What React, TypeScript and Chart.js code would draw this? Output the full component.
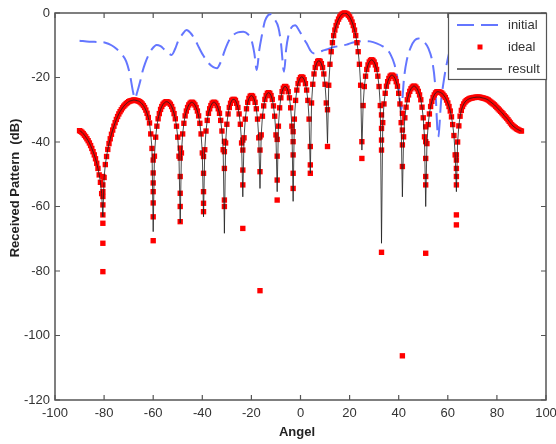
import React, { useEffect, useRef } from "react";
import { Chart, registerables } from "chart.js";

Chart.register(...registerables);

// ---------- data ----------
const X_TICKS = [-100, -80, -60, -40, -20, 0, 20, 40, 60, 80, 100];
const Y_TICKS = [0, -20, -40, -60, -80, -100, -120];

// "result" pattern sampled every 0.5 deg from -90 to 90 (dB)
const RESULT_DB = [
  -36.5, -36.7, -37.0, -37.4, -37.9, -38.4, -39.0, -39.6, -40.3, -41.1, -42.0, -43.0, -44.0, -45.2, -46.6, -48.2, -50.2, -52.5, -56.0, -63.2,
  -51.0, -47.0, -44.5, -42.3, -40.5, -39.0, -37.6, -36.3, -35.1, -34.0, -33.0, -32.1, -31.3, -30.6, -30.0, -29.4, -28.9, -28.5, -28.1, -27.8,
  -27.5, -27.3, -27.2, -27.1, -27.0, -27.0, -27.1, -27.2, -27.3, -27.5, -27.8, -28.2, -28.7, -29.3, -30.1, -31.1, -32.4, -34.1, -37.5, -42.0,
  -67.8, -44.4, -38.5, -35.1, -32.8, -31.2, -29.9, -29.0, -28.3, -27.9, -27.6, -27.5, -27.6, -27.9, -28.3, -29.0, -29.9, -31.2, -32.8, -35.1,
  -38.5, -44.4, -65.1, -43.4, -37.5, -34.2, -31.9, -30.4, -29.3, -28.5, -28.0, -27.7, -27.7, -28.0, -28.5, -29.3, -30.4, -31.9, -34.2, -37.5,
  -43.4, -63.2, -42.4, -36.6, -33.3, -31.1, -29.7, -28.7, -28.0, -27.7, -27.7, -28.0, -28.7, -29.7, -31.1, -33.3, -36.6, -42.4, -68.3, -40.3,
  -34.5, -31.3, -29.3, -28.0, -27.1, -26.8, -26.8, -27.1, -28.0, -29.3, -31.3, -34.5, -40.3, -57.0, -38.7, -32.9, -29.7, -27.7, -26.5, -25.8,
  -25.6, -25.8, -26.5, -27.7, -29.7, -32.9, -38.7, -54.4, -37.8, -32.0, -28.8, -26.8, -25.6, -24.9, -24.7, -24.9, -25.6, -26.8, -28.8, -32.0,
  -37.8, -55.4, -35.1, -29.4, -26.3, -24.4, -23.3, -22.8, -22.8, -23.3, -24.4, -26.3, -29.4, -35.1, -58.4, -32.9, -27.1, -23.9, -21.9, -20.7,
  -20.0, -19.8, -20.0, -20.7, -21.9, -23.9, -27.1, -32.9, -49.7, -27.9, -22.1, -18.9, -16.9, -15.7, -15.0, -14.8, -15.0, -15.7, -16.9, -18.9,
  -22.1, -27.9, -40.4, -22.4, -15.9, -12.0, -9.2, -7.0, -5.3, -3.9, -2.8, -1.9, -1.2, -0.7, -0.3, -0.1, 0.0, -0.1, -0.3, -0.7,
  -1.2, -1.9, -2.8, -3.9, -5.3, -7.0, -9.2, -12.0, -15.9, -22.4, -42.5, -28.7, -22.8, -19.6, -17.5, -16.1, -15.2, -14.7, -14.5, -14.7,
  -15.2, -16.1, -17.5, -19.6, -22.8, -28.7, -71.4, -34.0, -28.2, -24.9, -22.7, -21.3, -20.3, -19.6, -19.3, -19.3, -19.6, -20.3, -21.3, -22.7,
  -24.9, -28.2, -34.0, -57.0, -38.4, -32.5, -29.2, -26.9, -25.4, -24.3, -23.5, -23.0, -22.7, -22.7, -23.0, -23.5, -24.3, -25.4, -26.9, -29.2,
  -32.5, -38.4, -60.0, -40.5, -34.6, -31.3, -29.0, -27.4, -26.2, -25.4, -24.8, -24.5, -24.4, -24.5, -24.6, -24.8, -25.2, -25.7, -26.2, -27.0,
  -27.9, -29.0, -30.4, -32.2, -34.6, -38.0, -44.0, -55.4, -40.0, -35.0, -32.0, -30.2, -29.0, -28.2, -27.6, -27.2, -26.9, -26.7, -26.5, -26.4,
  -26.3, -26.2, -26.2, -26.1, -26.1, -26.1, -26.1, -26.2, -26.3, -26.4, -26.5, -26.6, -26.8, -27.0, -27.3, -27.6, -27.9, -28.2, -28.5, -28.9,
  -29.3, -29.7, -30.1, -30.5, -30.9, -31.3, -31.8, -32.2, -32.6, -33.1, -33.6, -34.1, -34.6, -35.0, -35.3, -35.6, -35.9, -36.1, -36.3, -36.5, -36.6,
];
const ANGLE_START = -90;
const ANGLE_STEP = 0.5;
const ANGLES = RESULT_DB.map((_, i) => ANGLE_START + i * ANGLE_STEP);

// null directions and the "ideal" samples read around each null
const NULL_ANGLES = [-80.5, -60, -49, -39.5, -31, -23.5, -16.5, -9.5, -3, 4, 11, 25, 33, 41.5, 51, 63.5];
const IDEAL_NULL_DB = [
  [-50.7, -53.3, -55.4, -56.9, -59.5, -62.6, -65.2, -71.4, -80.2],
  [-45.6, -49.6, -52.7, -55.4, -58.9, -63.2, -70.6],
  [-41.9, -45.0, -50.7, -55.9, -60.0, -64.7],
  [-44.5, -49.7, -55.4, -59.0, -61.6],
  [-39.8, -43.0, -48.2, -58.0, -60.0],
  [-39.4, -42.5, -48.7, -53.3, -66.8],
  [-38.4, -42.5, -49.2, -86.1],
  [-39.2, -44.4, -51.8, -58.0],
  [-36.8, -39.9, -44.0, -49.7, -54.4],
  [-41.4, -47.1, -49.7],
  [-30.0, -41.4],
  [-39.9, -45.1],
  [-31.6, -35.8, -39.4, -42.5, -74.2],
  [-31.1, -36.3, -40.9, -47.6, -106.3],
  [-35.3, -39.9, -45.1, -50.7, -53.3, -74.5],
  [-44.0, -45.6, -48.2, -50.7, -53.3, -62.6, -65.7],
];

// "initial" pattern (blue dashed)
const INITIAL_ANGLES = [
  -90, -86, -82, -79.5, -77, -75, -73, -71, -69.5, -68.2, -67.5, -66.5, -65.4, -64.3, -63.3, -62, -60.6, -58.6,
  -57, -55.5, -53.8, -52.5, -51, -49.8, -48, -46.4, -44.8, -43, -41.3, -39.6, -37.5, -35.5, -34, -32.5, -30.8,
  -29.3, -28, -25.5, -23.3, -21.5, -19.9, -18.8, -17.8, -16.8, -15.8, -14.5, -13.2, -12.1, -10.5, -9, -8, -6.7,
  -5.8, -5, -3.7, -2.2, -0.5, 1.5, 2.5, 4, 5.2, 7, 9, 10.7, 13, 16, 18.8, 21, 22.9, 26, 28.3, 31, 33.7, 35.5,
  36.5, 38.3, 39.8, 41, 42.2, 43.3, 45, 46.5, 48, 50, 52.1, 53.8, 54.8, 56.1, 57.3, 58.2, 59.5, 60.9, 62.5, 64,
];
const INITIAL_DB = [
  -8.6, -8.9, -9.0, -9.2, -10.0, -11.1, -12.6, -15.0, -19.0, -24.5, -26.5, -24.5, -21.5, -18.0, -15.6, -13.2, -11.3, -9.9,
  -10.3, -11.3, -12.5, -13.0, -11.0, -8.6, -6.5, -5.3, -6.2, -8.2, -10.8, -13.2, -15.5, -16.8, -17.1, -15.2, -11.5,
  -8.8, -7.3, -6.0, -5.8, -6.5, -8.6, -12.5, -17.7, -11.5, -7.2, -2.5, -0.7, -0.4, -2.0, -4.5, -9.0, -18.2,
  -11.0, -7.3, -4.5, -3.8, -5.5, -8.2, -9.4, -11.6, -12.5, -12.2, -11.7, -11.3, -10.7, -10.2, -9.8, -9.2, -8.9, -8.7, -8.8, -9.4, -10.4, -11.5,
  -12.6, -16.0, -21.8, -30.0, -20.0, -14.6, -10.5, -8.5, -7.9, -8.7, -11.0, -15.5, -21.8, -38.4, -27.0, -21.8, -16.0, -11.5, -9.5, -8.5,
];

const LEGEND_LABELS = ["initial", "ideal", "result"];
const X_TITLE = "Angel";
const Y_TITLE = "Received Pattern  (dB)";

// ---------- styles ----------
const FONT = "'Liberation Sans', Arial, sans-serif";
const BLUE = "rgb(100,118,255)";
const RED = "rgb(255,0,0)";
const BLACK = "rgba(30,30,30,0.8)";
const AXIS = "#555555";
const TEXT = "#333333";

const framePlugin = {
  id: "frame",
  beforeDatasetsDraw(chart: any) {
    const { ctx, chartArea: a, scales } = chart;
    ctx.save();
    ctx.strokeStyle = AXIS;
    ctx.lineWidth = 1.5;
    ctx.strokeRect(a.left, a.top, a.right - a.left, a.bottom - a.top);
    ctx.lineWidth = 1.2;
    ctx.beginPath();
    for (const v of X_TICKS) {
      const px = scales.x.getPixelForValue(v);
      ctx.moveTo(px, a.bottom);
      ctx.lineTo(px, a.bottom - 5);
      ctx.moveTo(px, a.top);
      ctx.lineTo(px, a.top + 5);
    }
    for (const v of Y_TICKS) {
      const py = scales.y.getPixelForValue(v);
      ctx.moveTo(a.left, py);
      ctx.lineTo(a.left + 5, py);
      ctx.moveTo(a.right, py);
      ctx.lineTo(a.right - 5, py);
    }
    ctx.stroke();
    ctx.restore();
  },
  afterDraw(chart: any) {
    const { ctx } = chart;
    ctx.save();
    // axis titles
    ctx.fillStyle = "#222";
    ctx.font = `bold 13px ${FONT}`;
    ctx.textAlign = "center";
    ctx.textBaseline = "middle";
    ctx.fillText(X_TITLE, 297, 432);
    ctx.save();
    ctx.translate(15, 188);
    ctx.rotate(-Math.PI / 2);
    ctx.fillText(Y_TITLE, 0, 0);
    ctx.restore();

    // legend box
    const bx = 448, by = 13, bw = 99, bh = 67;
    ctx.fillStyle = "#ffffff";
    ctx.fillRect(bx, by, bw, bh);
    ctx.strokeStyle = AXIS;
    ctx.lineWidth = 1.2;
    ctx.strokeRect(bx + 0.5, by + 0.5, bw - 1, bh - 1);

    const rows = [25, 47, 69];
    ctx.strokeStyle = BLUE;
    ctx.lineWidth = 2;
    ctx.setLineDash([17, 7]);
    ctx.beginPath();
    ctx.moveTo(457, rows[0]);
    ctx.lineTo(502, rows[0]);
    ctx.stroke();
    ctx.setLineDash([]);
    ctx.fillStyle = RED;
    ctx.fillRect(477.5, rows[1] - 2.5, 5, 5);
    ctx.strokeStyle = "rgba(30,30,30,0.85)";
    ctx.lineWidth = 1.5;
    ctx.beginPath();
    ctx.moveTo(457, rows[2]);
    ctx.lineTo(502, rows[2]);
    ctx.stroke();

    ctx.fillStyle = TEXT;
    ctx.font = `13px ${FONT}`;
    ctx.textAlign = "left";
    ctx.textBaseline = "middle";
    LEGEND_LABELS.forEach((t, i) => ctx.fillText(t, 508, rows[i]));
    ctx.restore();
  },
};

export default function App() {
  const ref = useRef<HTMLCanvasElement | null>(null);

  useEffect(() => {
    if (!ref.current) return;
    const nullSet = new Set(NULL_ANGLES);
    const resultPts = ANGLES.map((x, i) => ({ x, y: RESULT_DB[i] }));
    const idealPts: { x: number; y: number }[] = [];
    ANGLES.forEach((x, i) => {
      if (!nullSet.has(x)) idealPts.push({ x, y: RESULT_DB[i] });
    });
    NULL_ANGLES.forEach((x, k) => {
      IDEAL_NULL_DB[k].forEach((y) => idealPts.push({ x, y }));
    });
    const initialPts = INITIAL_ANGLES.map((x, i) => ({ x, y: INITIAL_DB[i] }));

    const chart = new Chart(ref.current, {
      type: "scatter",
      data: {
        datasets: [
          {
            label: LEGEND_LABELS[2],
            data: resultPts,
            showLine: true,
            borderColor: BLACK,
            borderWidth: 1,
            pointRadius: 0,
            order: 0,
          },
          {
            label: LEGEND_LABELS[1],
            data: idealPts,
            showLine: false,
            pointStyle: "rect",
            pointRadius: 3.8,
            pointBorderWidth: 0,
            backgroundColor: RED,
            borderColor: RED,
            clip: false,
            order: 1,
          },
          {
            label: LEGEND_LABELS[0],
            data: initialPts,
            showLine: true,
            borderColor: BLUE,
            borderWidth: 2,
            borderDash: [17, 7],
            pointRadius: 0,
            cubicInterpolationMode: "monotone",
            order: 2,
          },
        ] as any,
      },
      options: {
        responsive: false,
        animation: false,
        devicePixelRatio: 1,
        layout: { padding: { top: 13, right: 10, left: 0, bottom: 0 } },
        plugins: {
          legend: { display: false },
          tooltip: { enabled: false },
          title: { display: false },
        },
        scales: {
          x: {
            type: "linear",
            min: -100,
            max: 100,
            grid: { display: false, drawTicks: false },
            border: { display: false },
            ticks: {
              stepSize: 20,
              padding: 6,
              color: TEXT,
              font: { family: FONT, size: 13 },
              maxRotation: 0,
            },
            afterFit: (s: any) => {
              s.height = 44;
              s.paddingLeft = 0;
              s.paddingRight = 0;
            },
          },
          y: {
            type: "linear",
            min: -120,
            max: 0,
            grid: { display: false, drawTicks: false },
            border: { display: false },
            ticks: {
              stepSize: 20,
              padding: 5,
              color: TEXT,
              font: { family: FONT, size: 13 },
            },
            afterFit: (s: any) => {
              s.width = 55;
              s.paddingTop = 0;
              s.paddingBottom = 0;
            },
          },
        },
      },
      plugins: [framePlugin],
    });
    return () => chart.destroy();
  }, []);

  return (
    <div style={{ position: "fixed", left: 0, top: 0, width: 556, height: 444, background: "#fff" }}>
      <canvas ref={ref} width={556} height={444} style={{ display: "block" }} />
    </div>
  );
}
